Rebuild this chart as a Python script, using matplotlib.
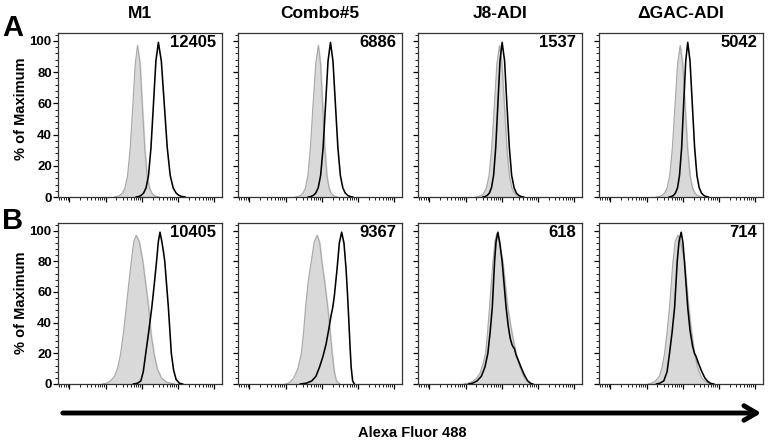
import numpy as np
import matplotlib
matplotlib.use("Agg")
from matplotlib import pyplot as plt
from matplotlib.ticker import MultipleLocator, FixedLocator, NullFormatter

plt.rcParams['font.family'] = ['Liberation Sans', 'DejaVu Sans']
plt.rcParams['font.weight'] = 'bold'

# column titles and MFI values
columnas = ['M1', 'Combo#5', 'J8-ADI', '\u0394GAC-ADI']
mfi_A = ['12405', '6886', '1537', '5042']
mfi_B = ['10405', '9367', '618', '714']

# histogramas (x en unidades de eje 0-100, y en % del maximo)
# fila A - control (gris) y muestra (negro)
A1_gris_x = [34.5, 36.0, 37.6, 39.2, 40.8, 42.4, 44.0, 45.6, 47.1, 48.5, 50.0, 51.4, 52.9, 54.3, 55.8, 57.2, 58.7, 60.1, 61.6]
A1_gris_y = [0, 0.3, 1.0, 2.4, 5.8, 13.6, 31.0, 58.2, 85.4, 97, 85.4, 58.2, 31.0, 13.6, 5.8, 2.4, 1.0, 0.3, 0]
A1_neg_x = [47.7, 49.2, 50.7, 52.2, 53.7, 55.2, 56.7, 58.2, 59.7, 61.2, 63.0, 64.8, 66.6, 68.4, 70.2, 72.0, 73.8, 75.6, 77.4]
A1_neg_y = [0, 0.3, 1.0, 2.5, 5.9, 13.9, 31.7, 59.4, 87.1, 99, 87.1, 59.4, 31.7, 13.9, 5.9, 2.5, 1.0, 0.3, 0]

A2_gris_x = [35.0, 36.6, 38.1, 39.6, 41.1, 42.6, 44.1, 45.7, 47.4, 49.0, 50.3, 51.6, 52.9, 54.2, 55.5, 56.8, 58.1, 59.4, 60.7]
A2_gris_y = [0, 0.3, 1.0, 2.4, 5.8, 13.6, 31.0, 58.2, 85.4, 97, 85.4, 58.2, 31.0, 13.6, 5.8, 2.4, 1.0, 0.3, 0]
A2_neg_x = [42.9, 44.4, 45.9, 47.4, 48.9, 50.4, 51.9, 53.4, 54.9, 56.4, 57.9, 59.4, 60.9, 62.4, 63.9, 65.4, 66.9, 68.4, 69.9]
A2_neg_y = [0, 0.3, 1.0, 2.5, 5.9, 13.9, 31.7, 59.4, 87.1, 99, 87.1, 59.4, 31.7, 13.9, 5.9, 2.5, 1.0, 0.3, 0]

A3_gris_x = [35.3, 36.9, 38.5, 40.1, 41.7, 43.3, 44.9, 46.5, 48.1, 49.7, 51.2, 52.7, 54.2, 55.7, 57.2, 58.7, 60.2, 61.7, 63.2]
A3_gris_y = [0, 0.3, 1.0, 2.4, 5.8, 13.6, 31.0, 58.2, 85.4, 97, 85.4, 58.2, 31.0, 13.6, 5.8, 2.4, 1.0, 0.3, 0]
A3_neg_x = [39.6, 40.9, 42.2, 43.5, 44.8, 46.1, 47.4, 48.7, 50.0, 51.3, 52.8, 54.2, 55.7, 57.1, 58.6, 60.0, 61.5, 62.9, 64.4]
A3_neg_y = [0, 0.3, 1.0, 2.5, 5.9, 13.9, 31.7, 59.4, 87.1, 99, 87.1, 59.4, 31.7, 13.9, 5.9, 2.5, 1.0, 0.3, 0]

A4_gris_x = [35.1, 36.7, 38.3, 39.9, 41.5, 43.1, 44.7, 46.3, 47.9, 49.5, 51.0, 52.5, 54.0, 55.5, 57.0, 58.5, 60.0, 61.5, 63.0]
A4_gris_y = [0, 0.3, 1.0, 2.4, 5.8, 13.6, 31.0, 58.2, 85.4, 97, 85.4, 58.2, 31.0, 13.6, 5.8, 2.4, 1.0, 0.3, 0]
A4_neg_x = [42.9, 44.1, 45.4, 46.6, 47.9, 49.1, 50.4, 51.6, 52.9, 54.1, 55.5, 56.9, 58.3, 59.7, 61.1, 62.5, 63.9, 65.3, 66.7]
A4_neg_y = [0, 0.3, 1.0, 2.5, 5.9, 13.9, 31.7, 59.4, 87.1, 99, 87.1, 59.4, 31.7, 13.9, 5.9, 2.5, 1.0, 0.3, 0]

# fila B
B1_gris_x = [27, 29.5, 32, 34.5, 36.5, 38.2, 40, 41.6, 43.2, 44.7, 46.2, 47.7, 49.5, 51.7, 53.5, 55.2, 56.8, 58.5, 60.5, 63, 66.5, 71]
B1_gris_y = [0, 0.5, 2, 5, 11, 20, 34, 50, 66, 80, 93, 97, 93, 80, 65, 50, 32, 20, 10, 4, 1, 0]
B1_neg_x = [46, 48.5, 50.5, 52, 53.5, 55.3, 57.2, 58.7, 60.1, 61.2, 62.2, 63.3, 64.2, 65.1, 66.2, 67.3, 68.2, 69.1, 70.5, 72, 74, 76]
B1_neg_y = [0, 0.5, 2, 8, 20, 34, 50, 65, 80, 93, 99, 93, 87, 80, 65, 50, 35, 20, 9, 3, 0.5, 0]

B2_gris_x = [29, 31.5, 34, 36.5, 38.6, 40, 41.2, 42.8, 44.7, 46.5, 48.3, 49.8, 51.1, 53, 54.7, 56.2, 57.4, 58.7, 60, 62]
B2_gris_y = [0, 1, 4, 10, 20, 34, 50, 67, 80, 93, 97, 92, 80, 65, 50, 34, 20, 8, 2, 0]
B2_neg_x = [38, 41.6, 45, 47.5, 49.7, 51.8, 53.7, 55.4, 56.8, 57.8, 58.8, 60.4, 61.8, 63.2, 64.6, 65.9, 66.8, 67.5, 68.3, 69, 69.9, 71]
B2_neg_y = [0, 0.5, 2, 5, 11, 18, 26, 36, 45, 50, 58, 75, 92, 99, 92, 75, 58, 43, 25, 11, 2, 0]

B3_gris_x = [28, 30.3, 33, 35.5, 37.8, 39.6, 41.2, 42.5, 43.6, 44.7, 45.7, 46.9, 48.0, 49.2, 50.5, 51.7, 53.2, 54.7, 56.5, 58.2, 59.8, 61.8, 64, 66, 68, 70]
B3_gris_y = [0, 0.5, 1.5, 3.5, 7, 13, 20, 35, 50, 66, 80, 93, 98, 94, 86, 80, 65, 50, 38, 28, 20, 12, 6, 2.5, 0.5, 0]
B3_neg_x = [31, 33.3, 36, 38.6, 40.8, 42.6, 44, 45.3, 46.0, 46.7, 47.6, 48.7, 49.9, 51.3, 52.5, 53.7, 55, 56.2, 57.2, 57.8, 58.8, 59.8, 61.3, 62.8, 64.8, 66.9, 68.9, 70]
B3_neg_y = [0, 0.5, 2, 5, 11, 20, 34, 50, 65, 80, 93, 99, 92, 80, 65, 50, 38, 30, 26, 24.5, 23, 19, 15, 11, 6, 2, 0.3, 0]

B4_gris_x = [30, 32, 34.5, 36.8, 38.5, 40, 41.5, 43.0, 44.1, 45.1, 46.5, 48.0, 49.5, 50.8, 52.1, 53.4, 54.7, 56.4, 58.2, 60.3, 62.5, 65, 67.3, 69]
B4_gris_y = [0, 0.5, 2, 5, 11, 20, 34, 50, 66, 80, 93, 97, 94, 87, 80, 65, 50, 34, 20, 10, 4, 1.5, 0.3, 0]
B4_neg_x = [35, 37, 39.5, 41.5, 43, 44.6, 46.1, 46.9, 47.7, 48.8, 50.1, 51.2, 52.1, 53.1, 54.1, 55.5, 57, 58.2, 59.2, 60.5, 62.3, 64.5, 66.5, 68.3, 70]
B4_neg_y = [0, 0.5, 2, 8, 20, 34, 50, 65, 80, 93, 99, 92, 80, 65, 50, 35, 25, 20, 18, 14, 9, 4, 1.5, 0.3, 0]

fila_A = [(A1_gris_x, A1_gris_y, A1_neg_x, A1_neg_y),
          (A2_gris_x, A2_gris_y, A2_neg_x, A2_neg_y),
          (A3_gris_x, A3_gris_y, A3_neg_x, A3_neg_y),
          (A4_gris_x, A4_gris_y, A4_neg_x, A4_neg_y)]
fila_B = [(B1_gris_x, B1_gris_y, B1_neg_x, B1_neg_y),
          (B2_gris_x, B2_gris_y, B2_neg_x, B2_neg_y),
          (B3_gris_x, B3_gris_y, B3_neg_x, B3_neg_y),
          (B4_gris_x, B4_gris_y, B4_neg_x, B4_neg_y)]

W, H = 768, 442
fig = plt.figure(figsize=(W / 100, H / 100), dpi=100)

izq = [58, 238, 418, 599]
ancho = 164
filas = [(197, 164, fila_A, mfi_A), (384, 161, fila_B, mfi_B)]

# ticks del eje x tipo logaritmico (sin etiquetas)
dec = 22.0
mayores = [7 + dec * i for i in range(5)]
menores = []
for base in [7 - dec] + mayores:
    for k in range(2, 10):
        p = base + dec * np.log10(k)
        if 0 < p < 100:
            menores.append(p)

for r, (abajo, alto, datos, mfi) in enumerate(filas):
    for c in range(4):
        ax = fig.add_axes([izq[c] / W, (H - abajo) / H, ancho / W, alto / H])
        gx, gy, nx, ny = datos[c]
        ax.fill_between(gx, gy, 0, color='#d9d9d9', zorder=1)
        ax.plot(gx, gy, color='#a8a8a8', lw=0.8, zorder=2)
        ax.plot(nx, ny, color='black', lw=1.15, zorder=3)
        ax.set_xlim(0, 100)
        ax.set_ylim(0, 105)
        ax.yaxis.set_major_locator(MultipleLocator(20))
        ax.yaxis.set_minor_locator(MultipleLocator(4))
        ax.xaxis.set_major_locator(FixedLocator(mayores))
        ax.xaxis.set_minor_locator(FixedLocator(menores))
        ax.xaxis.set_major_formatter(NullFormatter())
        ax.tick_params(axis='both', which='major', length=3.5, width=0.9, direction='out', labelsize=9.5, pad=1)
        ax.tick_params(axis='both', which='minor', length=2, width=0.6, direction='out')
        if c > 0:
            ax.set_yticklabels([])
        for s in ax.spines.values():
            s.set_linewidth(0.9)
            s.set_color('#333333')
        ax.text(0.965, 0.94, mfi[c], transform=ax.transAxes, ha='right', va='center',
                fontsize=12, fontweight='bold')
        if r == 0:
            ax.text(0.5, 1.0 + 20 / alto, columnas[c], transform=ax.transAxes, ha='center',
                    va='center', fontsize=12.5, fontweight='bold')

fig.text(21 / W, 1 - 109 / H, '% of Maximum', rotation=90, ha='center', va='center', fontsize=10.5, fontweight='bold')
fig.text(21 / W, 1 - 303 / H, '% of Maximum', rotation=90, ha='center', va='center', fontsize=10.5, fontweight='bold')
fig.text(13 / W, 1 - 28 / H, 'A', ha='center', va='center', fontsize=21, fontweight='bold')
fig.text(13 / W, 1 - 221 / H, 'B', ha='center', va='center', fontsize=21, fontweight='bold')

# flecha inferior
fig.add_artist(matplotlib.patches.FancyArrowPatch((60 / W, 1 - 413 / H), (764 / W, 1 - 413 / H),
                                                  transform=fig.transFigure,
                                                  arrowstyle='->,head_length=6,head_width=3.5',
                                                  lw=3.5, color='black', mutation_scale=1.5))
fig.text(412 / W, 1 - 433 / H, 'Alexa Fluor 488', ha='center', va='center', fontsize=10.5, fontweight='bold')

plt.savefig('out.png', dpi=100)
